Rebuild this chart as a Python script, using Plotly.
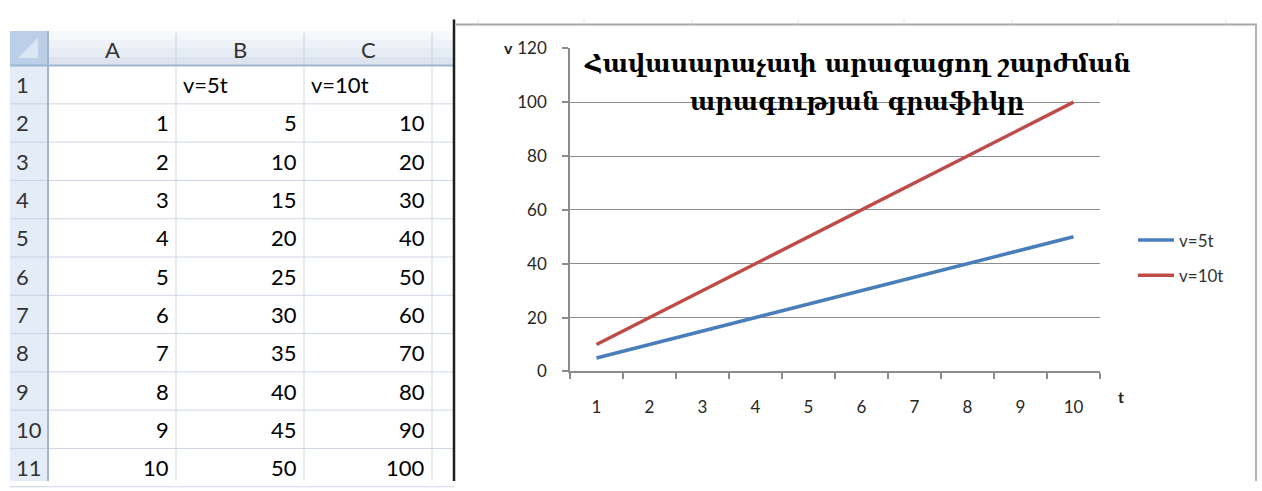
import plotly.graph_objects as go

# ---- data -------------------------------------------------------------
t_vals = [1, 2, 3, 4, 5, 6, 7, 8, 9, 10]
v_5t = [5, 10, 15, 20, 25, 30, 35, 40, 45, 50]
v_10t = [10, 20, 30, 40, 50, 60, 70, 80, 90, 100]
series_names = ["v=5t", "v=10t"]
col_letters = ["A", "B", "C"]
title_lines = ["Հավասարաչափ արագացող շարժման", "արագության գրաֆիկը"]

W, H = 1262, 491


def px(x):
    return x / W


def py(y):
    return 1 - y / H


shapes = []
annotations = []


def rect(x0, y0, x1, y1, fill, layer="below"):
    shapes.append(dict(type="rect", xref="paper", yref="paper",
                       x0=px(x0), x1=px(x1), y0=py(y1), y1=py(y0),
                       fillcolor=fill, line=dict(width=0), layer=layer))


def line(x0, y0, x1, y1, color, width=1, layer="below"):
    shapes.append(dict(type="line", xref="paper", yref="paper",
                       x0=px(x0), x1=px(x1), y0=py(y0), y1=py(y1),
                       line=dict(color=color, width=width), layer=layer))


def text(x, y, s, size, color="#000000", xanchor="center", bold=False,
         family="Lato"):
    annotations.append(dict(xref="paper", yref="paper", x=px(x), y=py(y),
                            text=f"<b>{s}</b>" if bold else s,
                            showarrow=False, xanchor=xanchor, yanchor="middle",
                            font=dict(family=family, size=size, color=color)))


# ---- worksheet grid ---------------------------------------------------
col_edges = [10, 48, 176, 304, 432, 454]   # row header, A, B, C, D(partial)
hdr_top, hdr_bot = 21, 57
row_h = 40
n_rows = len(t_vals) + 1

# column header band (soft vertical gradient)
grad = ["#F6F8FB", "#EEF2F8", "#E6ECF4", "#DDE4EF"]
band = (hdr_bot - hdr_top) / len(grad)
for i, c in enumerate(grad):
    rect(48, hdr_top + i * band, 454, hdr_top + (i + 1) * band + 0.5, c)

# row header band
rect(10, hdr_bot, 48, H, "#E4ECF7")

# select-all corner
rect(10, hdr_top, 48, hdr_bot, "#BCCFE8")
shapes.append(dict(type="path", xref="paper", yref="paper",
                   path=f"M {px(38)},{py(28)} L {px(38)},{py(49)} L {px(18)},{py(49)} Z",
                   fillcolor="#DCE6F3", line=dict(width=0), layer="below"))

# cell gridlines
for x in col_edges[2:5]:
    line(x, hdr_bot, x, H, "#D0D7E5")
for r in range(1, n_rows + 1):
    y = hdr_bot + r * row_h
    line(48, y, 454, y, "#D0D7E5")
    line(10, y, 48, y, "#C5D2E3")

# header separators
for x in col_edges[2:5]:
    line(x, hdr_top + 2, x, hdr_bot, "#C5D2E3")
line(10, hdr_bot, 454, hdr_bot, "#9EB6CE", 2)
line(48, hdr_top, 48, H, "#9EB6CE", 2)

# header labels
for i, letter in enumerate(col_letters):
    cx = (col_edges[i + 1] + col_edges[i + 2]) / 2
    text(cx, (hdr_top + hdr_bot) / 2 + 1, letter, 22, "#333333")
for r in range(1, n_rows + 1):
    text(14, hdr_bot + (r - 0.5) * row_h, str(r), 22, "#333333", xanchor="left")

# cell contents
row1_y = hdr_bot + 0.5 * row_h
text(col_edges[2] + 5, row1_y, series_names[0], 22, xanchor="left")
text(col_edges[3] + 5, row1_y, series_names[1], 22, xanchor="left")
for i, (t, a, b) in enumerate(zip(t_vals, v_5t, v_10t)):
    y = hdr_bot + (i + 1.5) * row_h
    text(col_edges[2] - 5, y, str(t), 22, xanchor="right")
    text(col_edges[3] - 5, y, str(a), 22, xanchor="right")
    text(col_edges[4] - 5, y, str(b), 22, xanchor="right")

# pane divider
line(454, 9, 454, H, "#1E1E1E", 2.5, layer="above")

# ---- chart frame ------------------------------------------------------
line(456, 14, 1257, 14, "#A6A6A6", 2)
line(1256, 14, 1256, H, "#B4B4B4", 2)
for x in [478, 584, 692, 798, 904, 1012, 1118, 1226]:
    line(x, 9, x, 14, "#D6DDE8", 1)

# ---- line chart -------------------------------------------------------
cats = [str(t) for t in t_vals]
fig = go.Figure()
fig.add_trace(go.Scatter(x=cats, y=v_5t, mode="lines", name=series_names[0],
                         line=dict(color="#4A7EBB", width=3.5),
                         legendgroup="a"))
fig.add_trace(go.Scatter(x=cats, y=v_10t, mode="lines", name=series_names[1],
                         line=dict(color="#BE4B48", width=3.5),
                         legendgroup="b"))

# axis titles and chart title
text(508, 38, "v", 16, "#222222", bold=True)
text(1121, 403, "t", 16, "#222222", bold=True)
for k, ln in enumerate(title_lines):
    annotations.append(dict(xref="paper", yref="paper", x=px(857),
                            y=py(55 + 40 * k), text=f"<b>{ln}</b>",
                            showarrow=False, xanchor="center", yanchor="middle",
                            font=dict(family="DejaVu Serif", size=24,
                                      color="#000000")))

tick_font = dict(family="Lato", size=17, color="#262626")
fig.update_layout(
    width=W, height=H,
    margin=dict(l=0, r=0, t=0, b=0),
    paper_bgcolor="white", plot_bgcolor="white",
    showlegend=True,
    legend=dict(x=px(1133), y=py(221), xanchor="left", yanchor="top",
                font=dict(family="Lato", size=17, color="#333333"),
                tracegroupgap=10, itemwidth=36, bgcolor="rgba(0,0,0,0)"),
    xaxis=dict(domain=[px(570), px(1100)], type="category",
               range=[-0.5, len(cats) - 0.5],
               tickson="boundaries", ticks="outside", ticklen=6,
               tickcolor="#8C8C8C", tickwidth=1.5,
               showline=True, linecolor="#8C8C8C", linewidth=1.5,
               showgrid=False, tickfont=tick_font, ticklabelstandoff=19,
               fixedrange=True),
    yaxis=dict(domain=[py(376.5), py(39)], range=[0, 120], dtick=20,
               ticks="outside", ticklen=6, tickcolor="#8C8C8C", tickwidth=1.5,
               showline=True, linecolor="#8C8C8C", linewidth=1.5,
               showgrid=True, gridcolor="#8C8C8C", gridwidth=1.2,
               zeroline=False, tickfont=tick_font, ticklabelstandoff=12,
               fixedrange=True),
    shapes=shapes,
    annotations=annotations,
)

fig.write_html(
    "out.html",
    post_script="document.body.style.margin='0';document.body.style.overflow='hidden';",
)
